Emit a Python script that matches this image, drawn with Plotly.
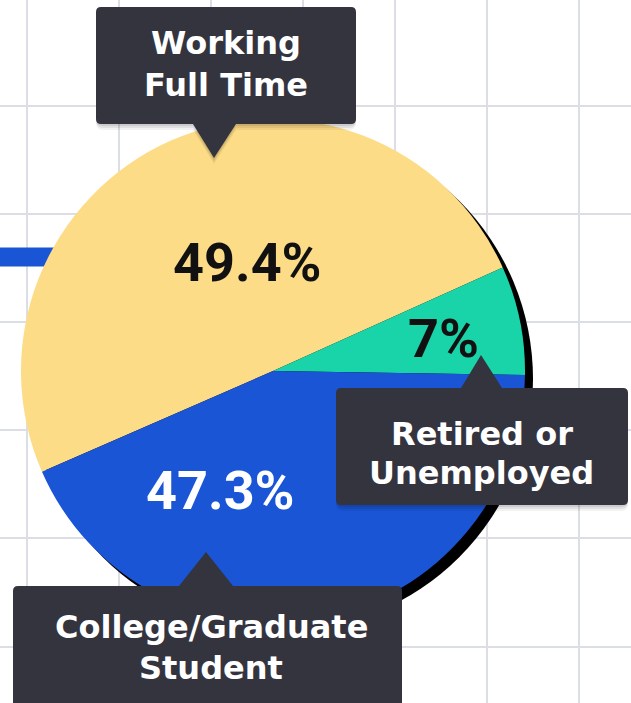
import plotly.graph_objects as go

W, H = 631, 703
OFF = 0  # body margin removed via post_script

# ---- data ----
categories = ["Working Full Time", "Retired or Unemployed", "College/Graduate Student"]
slice_values = [49.8, 7.0, 43.2]          # shares as drawn
pct_labels = ["49.4%", "7%", "47.3%"]     # printed labels
slice_colors = ["#FDDC87", "#19D3A9", "#1A55D5"]
pct_text_colors = ["#111111", "#111111", "#FFFFFF"]
callout_lines = [["Working", "Full Time"],
                 ["Retired or", "Unemployed"],
                 ["College/Graduate", "Student"]]

# ---- layout geometry (page pixels) ----
cx, cy, r = 273, 371, 252
shadow_off = 8
pct_pos = [(247, 262), (443, 338), (220, 490)]
line_pos = [[(226, 43), (226, 85)], [(482, 434), (481, 473)], [(211, 627), (211, 668)]]
boxes = [
    dict(x0=96, y0=7, x1=356, y1=124, side="bottom", bx0=193, bx1=236, tx=214, ty=158),
    dict(x0=336, y0=388, x1=628, y1=505, side="top", bx0=461, bx1=502, tx=481, ty=355),
    dict(x0=13, y0=586, x1=402, y1=730, side="top", bx0=179, bx1=233, tx=206, ty=552),
]
BOX_COLOR = "#34343F"


def callout_path(b, dx=0, dy=0, rad=5):
    x0, y0, x1, y1 = b["x0"] + dx, b["y0"] + dy, b["x1"] + dx, b["y1"] + dy
    bx0, bx1, tx, ty = b["bx0"] + dx, b["bx1"] + dx, b["tx"] + dx, b["ty"] + dy
    p = f"M {x0+rad},{y0} "
    if b["side"] == "top":
        p += f"L {bx0},{y0} L {tx},{ty} L {bx1},{y0} "
    p += f"L {x1-rad},{y0} Q {x1},{y0} {x1},{y0+rad} "
    p += f"L {x1},{y1-rad} Q {x1},{y1} {x1-rad},{y1} "
    if b["side"] == "bottom":
        p += f"L {bx1},{y1} L {tx},{ty} L {bx0},{y1} "
    p += f"L {x0+rad},{y1} Q {x0},{y1} {x0},{y1-rad} "
    p += f"L {x0},{y0+rad} Q {x0},{y0} {x0+rad},{y0} Z"
    return p


def dom(x0, x1, y0, y1):
    x0, x1, y0, y1 = x0 - OFF, x1 - OFF, y0 - OFF, y1 - OFF
    return dict(x=[x0 / W, x1 / W], y=[1 - y1 / H, 1 - y0 / H])


fig = go.Figure()

# decorative blue bar line at left (behind pie)
deco_x = [0, 120]
deco_y = [257, 257]
fig.add_trace(go.Scatter(x=deco_x, y=deco_y, mode="lines",
                         line=dict(color="#1A55D5", width=19),
                         hoverinfo="skip", showlegend=False))

# pie shadow
fig.add_trace(go.Pie(values=[1], labels=["shadow"], marker=dict(colors=["#000000"], line=dict(width=0)),
                     textinfo="none", hoverinfo="skip", sort=False,
                     domain=dom(cx - r + shadow_off, cx + r + shadow_off,
                                cy - r + shadow_off, cy + r + shadow_off)))

# main pie
fig.add_trace(go.Pie(values=slice_values, labels=categories,
                     marker=dict(colors=slice_colors, line=dict(width=0)),
                     textinfo="none", sort=False, direction="clockwise",
                     rotation=246.45, hoverinfo="label+value",
                     domain=dom(cx - r, cx + r, cy - r, cy + r)))

shapes = []
for b in boxes:
    for (off, alpha) in [(6, 0.05), (4, 0.07), (2, 0.09)]:
        shapes.append(dict(type="path", xref="x", yref="y", layer="above",
                           path=callout_path(b, 0, off, 7), fillcolor=f"rgba(0,0,0,{alpha})",
                           line=dict(width=0)))
    shapes.append(dict(type="path", xref="x", yref="y", layer="above",
                       path=callout_path(b), fillcolor=BOX_COLOR, line=dict(width=0)))

annotations = []
for txt, col, (x, y) in zip(pct_labels, pct_text_colors, pct_pos):
    annotations.append(dict(x=x, y=y, xref="x", yref="y", text=txt, showarrow=False,
                            xanchor="center", yanchor="middle",
                            font=dict(family="Roboto", size=54, color=col, weight=700)))
for lines, poss in zip(callout_lines, line_pos):
    for txt, (x, y) in zip(lines, poss):
        annotations.append(dict(x=x, y=y, xref="x", yref="y", text=txt, showarrow=False,
                                xanchor="center", yanchor="middle",
                                font=dict(family="DejaVu Sans", size=32, color="#FFFFFF", weight=700)))

fig.update_layout(
    width=W, height=H, margin=dict(l=0, r=0, t=0, b=0),
    paper_bgcolor="#FFFFFF", plot_bgcolor="#FFFFFF", showlegend=False,
    xaxis=dict(range=[OFF, OFF + W], domain=[0, 1], showgrid=True, gridcolor="#DCDEE6", gridwidth=2,
               tick0=27.4, dtick=91.9, zeroline=False, showticklabels=False, ticks="",
               fixedrange=True),
    yaxis=dict(range=[OFF + H, OFF], domain=[0, 1], showgrid=True, gridcolor="#DCDEE6", gridwidth=2,
               tick0=106, dtick=108.1, zeroline=False, showticklabels=False, ticks="",
               fixedrange=True),
    shapes=shapes, annotations=annotations,
)

fig.write_html("out.html", config={"displayModeBar": False},
               post_script="document.body.style.margin='0';")
